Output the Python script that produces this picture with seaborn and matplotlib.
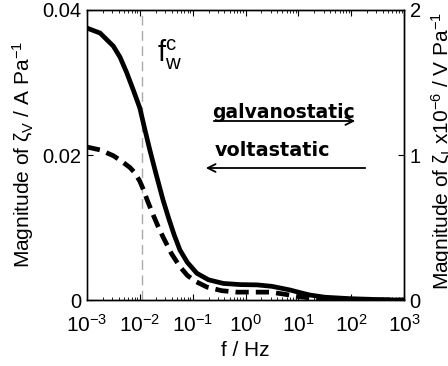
import numpy as np
import pandas as pd
import matplotlib
matplotlib.use("Agg")
import matplotlib.pyplot as plt
import seaborn as sns

# Data
log_f_galv = [-3, -2.75, -2.5, -2.375, -2.25, -2.125, -2.0, -1.9, -1.81, -1.7, -1.56, -1.45,
              -1.35, -1.24, -1.1, -0.92, -0.7, -0.42, -0.1, 0.22, 0.5, 0.84, 1.05, 1.22,
              1.5, 1.98, 2.5, 3.0]
mag_galv = [1.875, 1.84, 1.75, 1.675, 1.57, 1.45, 1.325, 1.17, 1.035, 0.88, 0.69, 0.56,
            0.45, 0.345, 0.26, 0.185, 0.14, 0.115, 0.107, 0.105, 0.095, 0.07, 0.05, 0.035,
            0.02, 0.01, 0.004, 0.0]
log_f_volt = [-3, -2.75, -2.5, -2.375, -2.19, -2.1, -2.0, -1.93, -1.86, -1.75, -1.65, -1.56,
              -1.4, -1.24, -1.1, -0.95, -0.73, -0.45, -0.16, 0.47, 0.75, 0.98, 1.36, 1.98, 3.0]
mag_volt = [0.0211, 0.0207, 0.0199, 0.0193, 0.0183, 0.0176, 0.0164, 0.0152, 0.0138, 0.0118,
            0.0101, 0.0087, 0.0064, 0.0046, 0.0034, 0.0026, 0.0018, 0.0013, 0.0011, 0.0011,
            0.0008, 0.0005, 0.0002, 0.00005, 0.0]
y_left_ticks = [0, 0.02, 0.04]
y_left_labels = ["0", "0.02", "0.04"]
y_right_ticks = [0, 1, 2]
x_ticks = [1e-3, 1e-2, 1e-1, 1e0, 1e1, 1e2, 1e3]
f_crit = 1.1e-2

sns.set_style("ticks")
plt.rcParams["font.family"] = ["Liberation Sans", "DejaVu Sans"]
plt.rcParams["mathtext.fontset"] = "custom"
plt.rcParams["mathtext.rm"] = "Liberation Sans"
plt.rcParams["mathtext.it"] = "Liberation Sans:italic"
plt.rcParams["mathtext.sf"] = "Liberation Sans"
for key in ["text.color", "axes.labelcolor", "xtick.color", "ytick.color", "axes.edgecolor"]:
    plt.rcParams[key] = "black"

fig = plt.figure(figsize=(4.48, 3.66), dpi=100)
ax = fig.add_axes([0.194, 0.180, 0.708, 0.793])
ax2 = ax.twinx()

dfg = pd.DataFrame({"f": np.power(10.0, log_f_galv), "m": mag_galv})
dfv = pd.DataFrame({"f": np.power(10.0, log_f_volt), "m": mag_volt})

sns.lineplot(data=dfv, x="f", y="m", ax=ax, color="black", lw=3.4,
             linestyle=(0, (2.8, 1.5)))
sns.lineplot(data=dfg, x="f", y="m", ax=ax2, color="black", lw=3.4)

ax.set_xscale("log")
ax.set_xlim(1e-3, 1e3)
ax.set_ylim(0, 0.04)
ax2.set_ylim(0, 2)
ax.axvline(f_crit, color="#aaaaaa", lw=1.0, ls=(0, (7, 4)), zorder=0)

ax.set_yticks(y_left_ticks)
ax.set_yticklabels(y_left_labels)
ax2.set_yticks(y_right_ticks)
ax2.set_yticklabels([str(t) for t in y_right_ticks])
ax.set_xticks(x_ticks)

for a in (ax, ax2):
    a.tick_params(direction="in", labelsize=14.5, length=4, width=0.8, pad=4,
                  colors="black")
    for s in a.spines.values():
        s.set_linewidth(1.0)
        s.set_color("black")
ax.tick_params(axis="x", which="both", top=True, direction="in")
ax.tick_params(axis="x", which="major", labelsize=15, pad=10)
ax.tick_params(axis="x", which="minor", length=2.5, width=0.6)
ax.spines["left"].set_color("#555555")

ax.set_xlabel("f / Hz", fontsize=15, labelpad=4, color="black")
ax.set_ylabel("Magnitude of ζ$_\\mathrm{V}$ / A Pa$^{-1}$", fontsize=15, color="black")
ax2.set_ylabel("Magnitude of ζ$_\\mathrm{I}$ x10$^{-6}$ / V Pa$^{-1}$", fontsize=15,
               color="black")
ax.yaxis.set_label_coords(-0.16, 0.5)
ax2.yaxis.set_label_coords(1.08, 0.514)

fig.text(157 / 448, 1 - 55 / 366, "$\\mathrm{f}_\\mathrm{w}^\\mathrm{c}$", fontsize=21,
         ha="left", va="center", color="black")

fig.text(212 / 448, 1 - 112 / 366, "galvanostatic", fontsize=13.5, fontweight="bold",
         family="DejaVu Sans", ha="left", va="center", color="black")
fig.text(215 / 448, 1 - 151 / 366, "voltastatic", fontsize=13.8, fontweight="bold",
         family="DejaVu Sans", ha="left", va="center", color="black")
ax.annotate("", xy=(358 / 448, 1 - 121 / 366), xytext=(211 / 448, 1 - 121 / 366),
            xycoords="figure fraction", textcoords="figure fraction",
            arrowprops=dict(arrowstyle="->", lw=1.3, color="black", mutation_scale=14))
ax.annotate("", xy=(203 / 448, 1 - 168 / 366), xytext=(368 / 448, 1 - 168 / 366),
            xycoords="figure fraction", textcoords="figure fraction",
            arrowprops=dict(arrowstyle="->", lw=1.3, color="black", mutation_scale=14))

fig.savefig("out.png", dpi=100)
